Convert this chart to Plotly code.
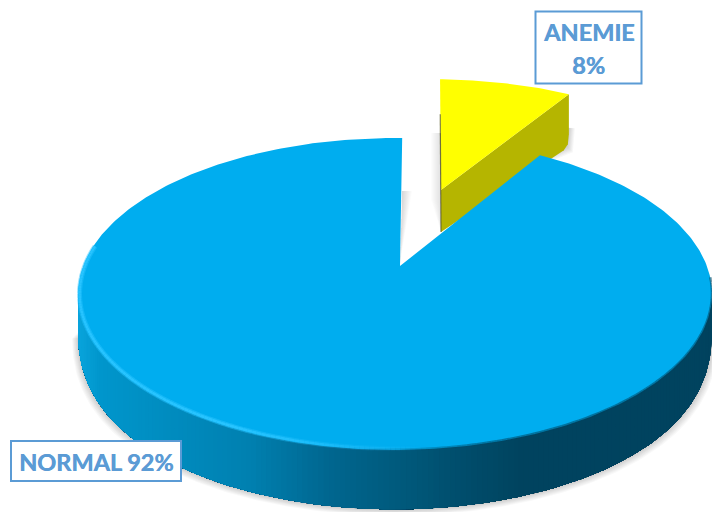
import numpy as np
import plotly.graph_objects as go

# Chart data
categories = ["ANEMIE", "NORMAL"]
shares = [8, 92]

# Disc geometry in page pixels
CX, CY, RX, RY = 395.0, 294.0, 317.0, 156.0
MAIN_TIP = (400.0, 266.0)
SMALL_TIP = (441.0, 190.0)
SMALL_SX, SMALL_SY = 0.935, 0.865
SMALL_DX = -3.0

TOP_BLUE = "#00ADEF"
YELLOW = "#FFFF00"
OLIVE = "#B5B500"
LABEL_BLUE = "#5B9BD5"
WALL_X = [78, 100, 250, 330, 450, 520, 712]
WALL_RGB = [(10, 164, 220), (0, 150, 204), (0, 128, 176), (0, 102, 143),
            (0, 80, 111), (0, 67, 95), (0, 67, 95)]

fig = go.Figure()


def polygon(xs, ys, color, line=0):
    fig.add_trace(go.Scatter(
        x=list(xs), y=list(ys), mode="lines", fill="toself", fillcolor=color,
        line=dict(color=color, width=line), hoverinfo="skip", showlegend=False))


def stroke(xs, ys, color, width):
    fig.add_trace(go.Scatter(
        x=list(xs), y=list(ys), mode="lines", hoverinfo="skip", showlegend=False,
        line=dict(color=color, width=width)))


def warp(percent):
    """Percent of the pie, clockwise from 12 o'clock, to an ellipse angle (radians)."""
    t = np.radians(np.asarray(percent, dtype=float) * 3.6)
    return t + np.radians(1.3) - np.radians(6.0) * np.sin(t)


def rim(t, sx=1.0, sy=1.0, tip=MAIN_TIP, dx=0.0):
    x = tip[0] + dx + sx * (CX - MAIN_TIP[0] + RX * np.sin(t))
    y = tip[1] + sy * (CY - MAIN_TIP[1] - RY * np.cos(t))
    return x, y


def wall_depth(t):
    v = np.minimum(np.cos(t), 0)
    return 60 - 22 * np.exp(3.5 * v)


def wall_color(x):
    return tuple(int(round(np.interp(x, WALL_X, [c[i] for c in WALL_RGB]))) for i in range(3))


small, large = shares
front = np.radians(np.linspace(90, 270, 181))

# Soft shadow under the front wall
fx, fy = rim(front)
fd = wall_depth(front)
for grow in range(7, 0, -1):
    scale_x = 1 + grow * 0.85 / RX
    polygon(CX + (fx - CX) * scale_x, fy + fd + grow * 0.9,
            "rgba(0,0,0,0.028)")

# Detached slice: wall below its outer edge, then the top face
sm = warp(np.linspace(0, small, 50))
sx, sy = rim(sm, SMALL_SX, SMALL_SY, SMALL_TIP, SMALL_DX)
corner = (sx[-1], sy[-1])
for grow in range(6, 0, -1):
    polygon([corner[0] - 30, corner[0] + grow, corner[0] - 2 + grow, corner[0] - 30],
            [corner[1] + 30, corner[1] + 34, corner[1] + 52 + grow, corner[1] + 66 + grow],
            "rgba(0,0,0,0.03)")
polygon([SMALL_TIP[0], corner[0], corner[0], corner[0] - 1, corner[0] - 5, corner[0] - 14, SMALL_TIP[0]],
        [SMALL_TIP[1], corner[1], corner[1] + 40, corner[1] + 50, corner[1] + 56, corner[1] + 62, SMALL_TIP[1] + 42],
        OLIVE)
polygon(np.r_[SMALL_TIP[0], sx], np.r_[SMALL_TIP[1], sy], YELLOW)
stroke([sx[0] + 0.2, SMALL_TIP[0], SMALL_TIP[0]],
       [sy[0] + 35, SMALL_TIP[1], SMALL_TIP[1] + 42], "rgba(90,90,40,0.75)", 1.2)

# Shading cast inside the gap between the two slices
for grow in range(1, 11):
    polygon([SMALL_TIP[0] - grow, SMALL_TIP[0], SMALL_TIP[0], SMALL_TIP[0] - grow],
            [SMALL_TIP[1] - 57, SMALL_TIP[1] - 57, SMALL_TIP[1] + 42, SMALL_TIP[1] + 10],
            "rgba(0,0,0,0.012)")
    polygon([MAIN_TIP[0] + 2, MAIN_TIP[0] + 2 + grow, MAIN_TIP[0] + grow * 0.2, MAIN_TIP[0]],
            [MAIN_TIP[1] - 75, MAIN_TIP[1] - 75, MAIN_TIP[1] - 15, MAIN_TIP[1]],
            "rgba(0,0,0,0.014)")

# Front wall of the large slice: painted right to left, each layer running
# through to the left end so neighbouring shades leave no seams
for i in range(len(front) - 1):
    part = front[i:]
    qx, qy = rim(part)
    r, g, bl = wall_color(float(qx[:2].mean()))
    polygon(np.r_[qx, qx[::-1]],
            np.r_[qy, (qy + wall_depth(part))[::-1]],
            f"rgb({r},{g},{bl})")

# Top face of the large slice
lg = warp(np.linspace(small, small + large, 400))
lx, ly = rim(lg)
polygon(np.r_[MAIN_TIP[0], lx], np.r_[MAIN_TIP[1], ly], TOP_BLUE)

# Rounded rim: soft dark edge on the right, bright bevel on the left
edge = np.radians(np.linspace(84, 288, 220))
ex, ey = rim(edge)
for i in range(len(edge) - 1):
    mid = 0.5 * (ex[i] + ex[i + 1])
    if mid > 330:
        alpha = min(1.0, (mid - 330) / 150) * 0.55
        r, g, bl = wall_color(mid)
        stroke(ex[i:i + 2], ey[i:i + 2] - 0.5, f"rgba({r},{g},{bl},{alpha:.3f})", 2.5)
    strength = float(np.clip((430 - mid) / 200, 0, 1))
    if strength > 0:
        ix = CX + (ex[i:i + 2] - CX) * 0.995
        iy = CY + (ey[i:i + 2] - CY) * 0.99
        stroke(ix, iy, f"rgba(40,196,255,{strength * 0.5:.3f})", 5)
        stroke(ix, iy, f"rgba(40,196,255,{strength:.3f})", 2.5)

# Labels
label_boxes = {
    "ANEMIE": dict(x0=535.5, x1=641.5, y0=11.5, y1=83.5),
    "NORMAL": dict(x0=11, x1=181, y0=441, y1=481),
}
shapes = [dict(type="rect", xref="x", yref="y", fillcolor="white",
               line=dict(color=LABEL_BLUE, width=2), **box)
          for box in label_boxes.values()]

label_font = dict(family="Lato, 'Open Sans', sans-serif", size=23.5, color=LABEL_BLUE,
                  weight="bold", shadow="0.5px 0 0 #5B9BD5")
value_by_name = dict(zip(categories, shares))
annotations = [
    dict(x=588.5, y=32, text="ANEMIE"),
    dict(x=588.5, y=65, text=f"{value_by_name['ANEMIE']}%"),
    dict(x=95.5, y=462, text=f"NORMAL {value_by_name['NORMAL']}%"),
]
for a in annotations:
    a.update(xref="x", yref="y", showarrow=False, font=label_font,
             xanchor="center", yanchor="middle")

fig.update_layout(
    width=712, height=512, autosize=False,
    margin=dict(l=0, r=0, t=0, b=0),
    paper_bgcolor="white", plot_bgcolor="white",
    xaxis=dict(range=[0, 712], visible=False, fixedrange=True),
    yaxis=dict(range=[512, 0], visible=False, fixedrange=True),
    shapes=shapes, annotations=annotations, showlegend=False,
)

fig.write_html("out.html", config=dict(displayModeBar=False))
